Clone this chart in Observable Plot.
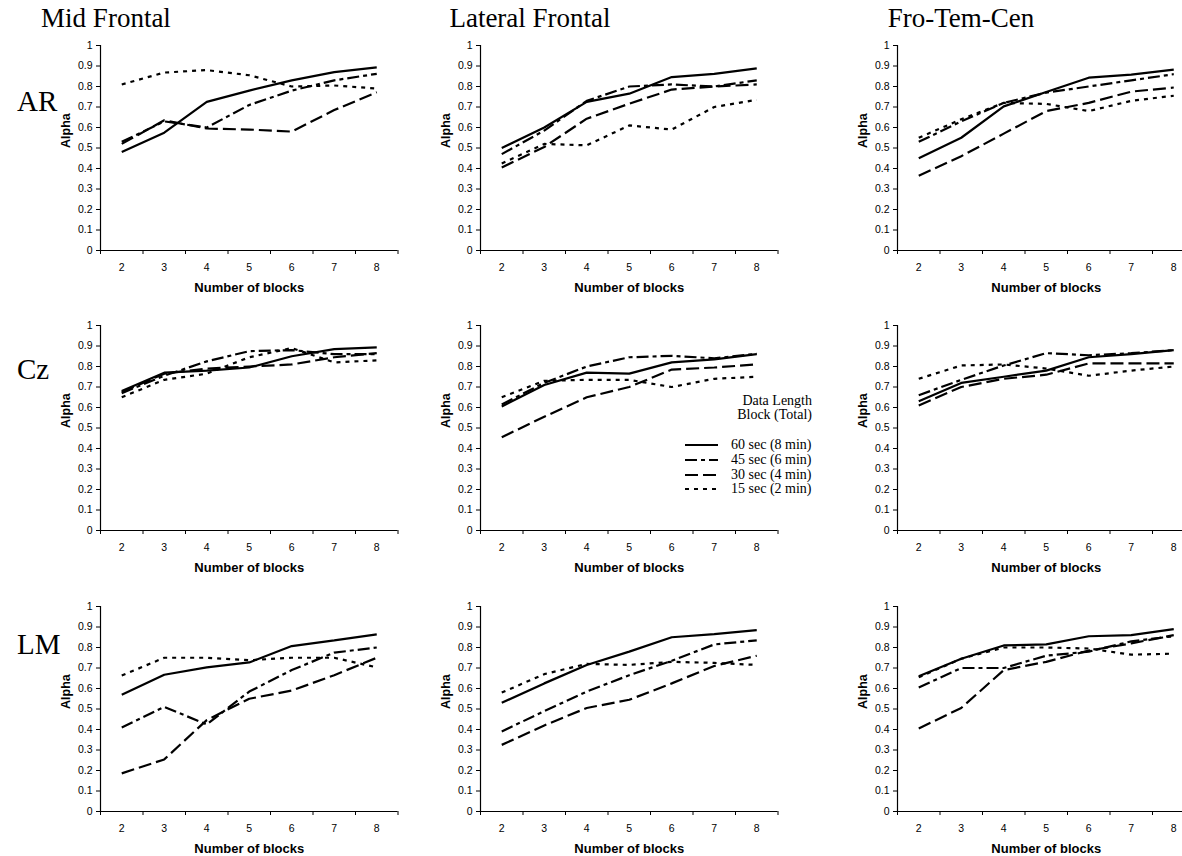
<!DOCTYPE html>
<html><head><meta charset="utf-8">
<script src="https://cdn.jsdelivr.net/npm/d3@7"></script>
<script src="https://cdn.jsdelivr.net/npm/@observablehq/plot@0.6"></script>
<style>
html,body{margin:0;padding:0;background:#fff;}
#root{position:relative;width:1182px;height:856px;overflow:hidden;background:#fff;}
.serif{position:absolute;font-family:"Liberation Serif","Times New Roman",serif;color:#000;white-space:nowrap;line-height:1;}
.panel{position:absolute;width:400px;height:265px;}
.panel svg{overflow:visible;max-width:none !important;width:400px;height:265px;}
</style></head><body><div id="root"></div>
<script>
// ---------- data ----------
const blocks = [2, 3, 4, 5, 6, 7, 8];
const regions = ["Mid Frontal", "Lateral Frontal", "Fro-Tem-Cen"];
const sites = ["AR", "Cz", "LM"];
const seriesNames = ["60 sec (8 min)", "45 sec (6 min)", "30 sec (4 min)", "15 sec (2 min)"];
const yTicks = [0, 0.1, 0.2, 0.3, 0.4, 0.5, 0.6, 0.7, 0.8, 0.9, 1];
const xBounds = [1.5, 2.5, 3.5, 4.5, 5.5, 6.5, 7.5, 8.5];

const ar_mid_60 = [0.48, 0.575, 0.725, 0.78, 0.83, 0.87, 0.893];
const ar_mid_45 = [0.53, 0.63, 0.60, 0.71, 0.78, 0.83, 0.862];
const ar_mid_30 = [0.52, 0.635, 0.595, 0.59, 0.58, 0.685, 0.772];
const ar_mid_15 = [0.81, 0.868, 0.88, 0.855, 0.80, 0.805, 0.79];

const ar_lat_60 = [0.50, 0.60, 0.725, 0.765, 0.846, 0.862, 0.888];
const ar_lat_45 = [0.47, 0.585, 0.73, 0.80, 0.81, 0.80, 0.83];
const ar_lat_30 = [0.405, 0.505, 0.643, 0.716, 0.785, 0.80, 0.81];
const ar_lat_15 = [0.425, 0.52, 0.513, 0.61, 0.59, 0.70, 0.735];

const ar_ftc_60 = [0.45, 0.55, 0.703, 0.773, 0.843, 0.858, 0.882];
const ar_ftc_45 = [0.53, 0.63, 0.72, 0.77, 0.80, 0.83, 0.86];
const ar_ftc_30 = [0.365, 0.46, 0.57, 0.68, 0.72, 0.775, 0.795];
const ar_ftc_15 = [0.55, 0.64, 0.72, 0.715, 0.68, 0.73, 0.755];

const cz_mid_60 = [0.68, 0.77, 0.78, 0.795, 0.85, 0.885, 0.893];
const cz_mid_45 = [0.67, 0.755, 0.825, 0.875, 0.88, 0.86, 0.86];
const cz_mid_30 = [0.675, 0.765, 0.79, 0.80, 0.81, 0.845, 0.865];
const cz_mid_15 = [0.65, 0.735, 0.765, 0.845, 0.89, 0.82, 0.83];

const cz_lat_60 = [0.605, 0.71, 0.77, 0.765, 0.82, 0.835, 0.86];
const cz_lat_45 = [0.615, 0.72, 0.80, 0.845, 0.852, 0.84, 0.862];
const cz_lat_30 = [0.455, 0.555, 0.65, 0.70, 0.785, 0.795, 0.81];
const cz_lat_15 = [0.65, 0.73, 0.735, 0.735, 0.70, 0.74, 0.75];

const cz_ftc_60 = [0.63, 0.72, 0.75, 0.78, 0.845, 0.86, 0.88];
const cz_ftc_45 = [0.66, 0.735, 0.805, 0.865, 0.855, 0.865, 0.88];
const cz_ftc_30 = [0.61, 0.70, 0.74, 0.76, 0.815, 0.815, 0.815];
const cz_ftc_15 = [0.74, 0.805, 0.81, 0.79, 0.755, 0.78, 0.80];

const lm_mid_60 = [0.57, 0.667, 0.703, 0.727, 0.807, 0.835, 0.864];
const lm_mid_45 = [0.41, 0.51, 0.425, 0.585, 0.69, 0.775, 0.80];
const lm_mid_30 = [0.186, 0.254, 0.446, 0.55, 0.59, 0.665, 0.75];
const lm_mid_15 = [0.663, 0.75, 0.75, 0.738, 0.75, 0.75, 0.703];

const lm_lat_60 = [0.53, 0.625, 0.715, 0.78, 0.85, 0.865, 0.885];
const lm_lat_45 = [0.39, 0.49, 0.585, 0.665, 0.735, 0.815, 0.835];
const lm_lat_30 = [0.325, 0.42, 0.505, 0.545, 0.625, 0.71, 0.76];
const lm_lat_15 = [0.58, 0.67, 0.72, 0.715, 0.73, 0.725, 0.715];

const lm_ftc_60 = [0.66, 0.745, 0.81, 0.815, 0.855, 0.86, 0.89];
const lm_ftc_45 = [0.605, 0.70, 0.70, 0.76, 0.78, 0.83, 0.855];
const lm_ftc_30 = [0.405, 0.505, 0.69, 0.73, 0.785, 0.82, 0.86];
const lm_ftc_15 = [0.655, 0.745, 0.80, 0.80, 0.795, 0.765, 0.77];

const panelValues = [
  [[ar_mid_60, ar_mid_45, ar_mid_30, ar_mid_15], [ar_lat_60, ar_lat_45, ar_lat_30, ar_lat_15], [ar_ftc_60, ar_ftc_45, ar_ftc_30, ar_ftc_15]],
  [[cz_mid_60, cz_mid_45, cz_mid_30, cz_mid_15], [cz_lat_60, cz_lat_45, cz_lat_30, cz_lat_15], [cz_ftc_60, cz_ftc_45, cz_ftc_30, cz_ftc_15]],
  [[lm_mid_60, lm_mid_45, lm_mid_30, lm_mid_15], [lm_lat_60, lm_lat_45, lm_lat_30, lm_lat_15], [lm_ftc_60, lm_ftc_45, lm_ftc_30, lm_ftc_15]]
];

// ---------- styles / layout ----------
const dashes = [null, "12,4,4,4", "13,5", "4,5"];
const colAxisX = [100, 480, 897];
const rowTop = [45, 325, 606];
const colTitleX = [106, 530, 961];
const rowLabelY = [102, 370, 645];
const sans = "'Liberation Sans', Arial, sans-serif";

const root = document.getElementById("root");

function makePanel(vals) {
  const lineMarks = [3, 2, 1, 0].map(s =>
    Plot.line(blocks.map((b, i) => ({block: b, alpha: vals[s][i]})), {
      x: "block", y: "alpha", stroke: "#000", strokeWidth: 2.2,
      strokeLinecap: "butt", strokeLinejoin: "miter",
      strokeDasharray: dashes[s] || undefined
    })
  );
  return Plot.plot({
    width: 400, height: 265,
    marginLeft: 100, marginRight: 2.5, marginTop: 10, marginBottom: 50,
    style: {fontFamily: sans, fontSize: "10.5px", color: "#000", background: "transparent"},
    x: {domain: [1.5, 8.5]},
    y: {domain: [0, 1]},
    marks: [
      Plot.axisY({ticks: yTicks, tickSize: 4, tickPadding: 4, label: null, fontSize: 10.5,
        tickFormat: d => d === 0 ? "0" : d === 1 ? "1" : d.toFixed(1)}),
      Plot.axisX({ticks: blocks, tickSize: 0, tickPadding: 13, label: null, fontSize: 10.5, tickFormat: d => String(d)}),
      Plot.axisX({ticks: xBounds, tickSize: 4, label: null, tickFormat: () => ""}),
      Plot.ruleX([1.5], {stroke: "#000", strokeWidth: 1.2}),
      Plot.ruleY([0], {stroke: "#000", strokeWidth: 1.2}),
      Plot.text(["Alpha"], {text: d => d, frameAnchor: "left", dx: -35, rotate: -90,
        fontWeight: "bold", fontSize: 12.5, fill: "#000"}),
      Plot.text(["Number of blocks"], {text: d => d, frameAnchor: "bottom", dy: 37,
        lineAnchor: "middle", fontWeight: "bold", fontSize: 13, fill: "#000"}),
      ...lineMarks
    ]
  });
}

for (let r = 0; r < 3; r++) {
  for (let c = 0; c < 3; c++) {
    const wrap = document.createElement("div");
    wrap.className = "panel";
    wrap.style.left = (colAxisX[c] - 100) + "px";
    wrap.style.top = (rowTop[r] - 10) + "px";
    wrap.appendChild(makePanel(panelValues[r][c]));
    root.appendChild(wrap);
  }
}

// column titles
regions.forEach((t, c) => {
  const d = document.createElement("div");
  d.className = "serif";
  d.textContent = t;
  d.style.fontSize = "27px";
  d.style.left = (colTitleX[c] - 150) + "px";
  d.style.width = "300px";
  d.style.textAlign = "center";
  d.style.top = (18 - 13) + "px";
  root.appendChild(d);
});
// row labels
sites.forEach((t, r) => {
  const d = document.createElement("div");
  d.className = "serif";
  d.textContent = t;
  d.style.fontSize = "29px";
  d.style.left = "17px";
  d.style.top = (rowLabelY[r] - 15) + "px";
  root.appendChild(d);
});

// legend
const legendHead = ["Data Length", "Block (Total)"];
const legendHeadY = [401, 415];
legendHead.forEach((t, i) => {
  const d = document.createElement("div");
  d.className = "serif";
  d.textContent = t;
  d.style.fontSize = "14px";
  d.style.left = "612px";
  d.style.width = "200px";
  d.style.textAlign = "right";
  d.style.top = (legendHeadY[i] - 7) + "px";
  root.appendChild(d);
});
const legendY = [445, 460, 475, 489];
seriesNames.forEach((t, i) => {
  const row = document.createElement("div");
  row.className = "serif";
  row.style.left = "685px";
  row.style.top = (legendY[i] - 8) + "px";
  row.style.height = "16px";
  row.style.display = "flex";
  row.style.alignItems = "center";
  const ns = "http://www.w3.org/2000/svg";
  const svg = document.createElementNS(ns, "svg");
  svg.setAttribute("width", "33");
  svg.setAttribute("height", "16");
  const ln = document.createElementNS(ns, "line");
  ln.setAttribute("x1", "0"); ln.setAttribute("x2", "33");
  ln.setAttribute("y1", "8"); ln.setAttribute("y2", "8");
  ln.setAttribute("stroke", "#000"); ln.setAttribute("stroke-width", "2.2");
  if (dashes[i]) ln.setAttribute("stroke-dasharray", dashes[i]);
  svg.appendChild(ln);
  row.appendChild(svg);
  const sp = document.createElement("span");
  sp.textContent = t;
  sp.style.fontSize = "14px";
  sp.style.marginLeft = "13px";
  row.appendChild(sp);
  root.appendChild(row);
});
</script>
</body></html>
